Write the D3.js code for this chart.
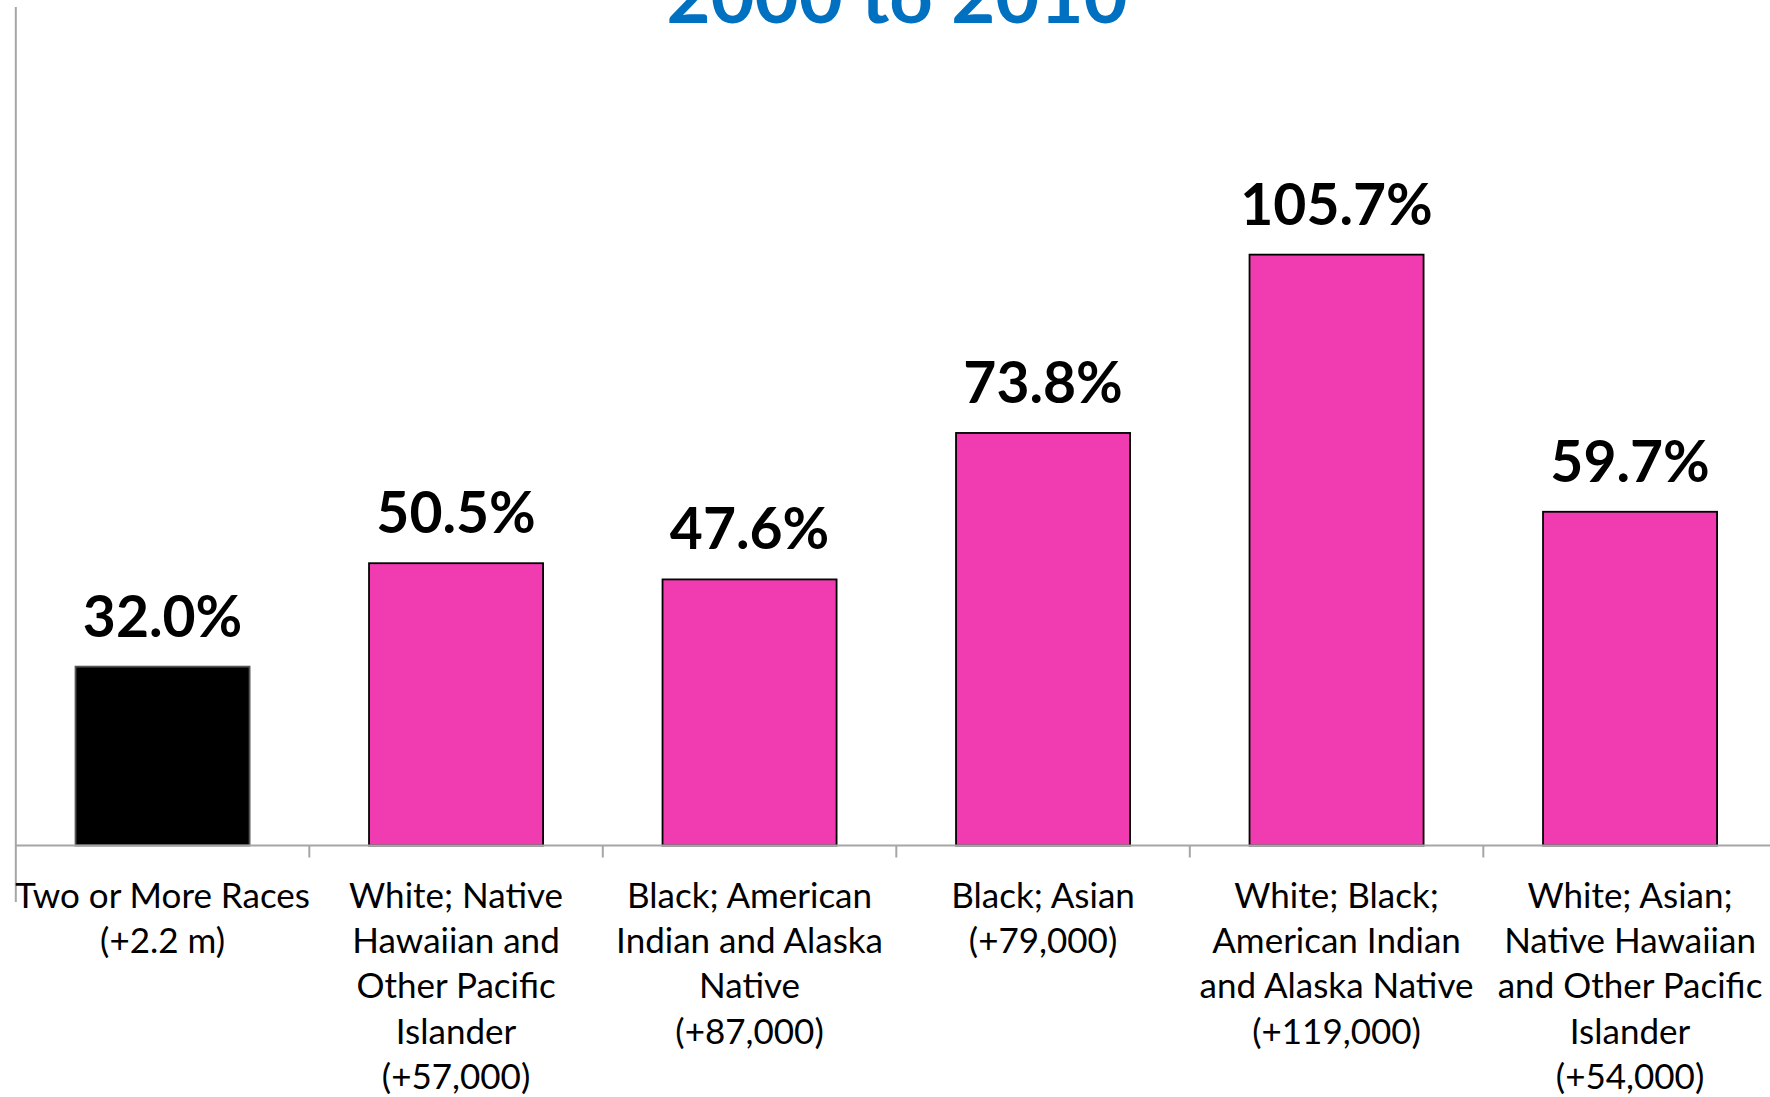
<!DOCTYPE html>
<html>
<head>
<meta charset="utf-8">
<script src="https://cdn.jsdelivr.net/npm/d3@7"></script>
<style>
  html, body { margin: 0; padding: 0; background: #fff; }
  svg { display: block; }
</style>
</head>
<body>
<svg id="chart" width="1770" height="1097"></svg>
<script>
const titleText = "2000 to 2010";
const categories = [
  "Two or More Races",
  "White; Native Hawaiian and Other Pacific Islander",
  "Black; American Indian and Alaska Native",
  "Black; Asian",
  "White; Black; American Indian and Alaska Native",
  "White; Asian; Native Hawaiian and Other Pacific Islander"
];
const labelLines = [
  ["Two or More Races", "(+2.2 m)"],
  ["White; Native", "Hawaiian and", "Other Pacific", "Islander", "(+57,000)"],
  ["Black; American", "Indian and Alaska", "Native", "(+87,000)"],
  ["Black; Asian", "(+79,000)"],
  ["White; Black;", "American Indian", "and Alaska Native", "(+119,000)"],
  ["White; Asian;", "Native Hawaiian", "and Other Pacific", "Islander", "(+54,000)"]
];
const values = [32.0, 50.5, 47.6, 73.8, 105.7, 59.7];
const valueLabels = ["32.0%", "50.5%", "47.6%", "73.8%", "105.7%", "59.7%"];
const yDomain = [0, 150];

const svg = d3.select("#chart");
const plotLeft = 15.8, plotTop = 7, baseY = 845.5, step = 293.5;
const x = d3.scaleBand().domain(categories)
  .range([plotLeft, plotLeft + step * categories.length])
  .paddingInner(0.407).paddingOuter(0.2035);
const y = d3.scaleLinear().domain(yDomain).range([baseY, plotTop]);

const font = "Lato, 'Open Sans', sans-serif";

// title (cut off at top, as in the reference)
svg.append("text")
  .attr("x", 897).attr("y", 23)
  .attr("text-anchor", "middle")
  .attr("font-family", font).attr("font-weight", 700)
  .attr("font-size", 76).attr("fill", "#0070C0")
  .text(titleText);

// bars
svg.selectAll("rect.bar").data(categories).join("rect")
  .attr("class", "bar")
  .attr("x", d => x(d))
  .attr("width", x.bandwidth())
  .attr("y", (d, i) => y(values[i]))
  .attr("height", (d, i) => y(0) - y(values[i]))
  .attr("fill", (d, i) => i === 0 ? "#000000" : "#F03CB0")
  .attr("stroke", (d, i) => i === 0 ? "#555" : "#000")
  .attr("stroke-width", 1.8);

// axes
const axisColor = "#A6A6A6";
svg.append("line")
  .attr("x1", plotLeft).attr("x2", 1770).attr("y1", baseY).attr("y2", baseY)
  .attr("stroke", axisColor).attr("stroke-width", 2);
svg.append("line")
  .attr("x1", plotLeft).attr("x2", plotLeft).attr("y1", plotTop).attr("y2", 902)
  .attr("stroke", axisColor).attr("stroke-width", 2);
const bounds = d3.range(1, categories.length).map(i => x(categories[i]) - x.step() * x.paddingInner() / 2);
svg.selectAll("line.tick").data(bounds).join("line")
  .attr("class", "tick")
  .attr("x1", d => d).attr("x2", d => d)
  .attr("y1", baseY).attr("y2", baseY + 12)
  .attr("stroke", axisColor).attr("stroke-width", 2);

// value labels
svg.selectAll("text.val").data(categories).join("text")
  .attr("class", "val")
  .attr("x", d => x(d) + x.bandwidth() / 2)
  .attr("y", (d, i) => y(values[i]) - 30)
  .attr("text-anchor", "middle")
  .attr("font-family", font).attr("font-weight", 700)
  .attr("font-size", 57).attr("fill", "#000")
  .text((d, i) => valueLabels[i]);

// category labels
const catG = svg.selectAll("text.cat").data(categories).join("text")
  .attr("class", "cat")
  .attr("text-anchor", "middle")
  .attr("font-family", font).attr("font-size", 35).attr("fill", "#000");
catG.each(function(d, i) {
  const cx = x(d) + x.bandwidth() / 2;
  d3.select(this).selectAll("tspan").data(labelLines[i]).join("tspan")
    .attr("x", cx)
    .attr("y", (l, j) => 908 + j * 45.2)
    .text(l => l);
});
</script>
</body>
</html>
